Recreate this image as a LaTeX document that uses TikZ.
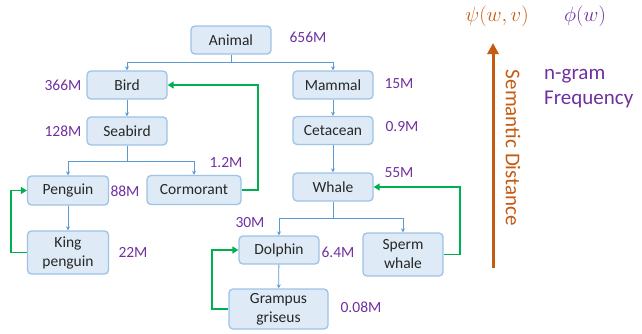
\documentclass[tikz,border=0pt]{standalone}
\usepackage{fontspec}
\setmainfont{Carlito}
\usetikzlibrary{positioning,arrows.meta}
\definecolor{tbfill}{RGB}{222,235,247}
\definecolor{tbdraw}{RGB}{157,195,230}
\definecolor{tbline}{RGB}{91,155,213}
\definecolor{tbgreen}{RGB}{0,176,80}
\definecolor{tbpurple}{RGB}{112,48,160}
\definecolor{tborange}{RGB}{197,90,17}

\begin{document}
\begin{tikzpicture}[x=1pt, y=-1pt,
  box/.style={draw=tbdraw, fill=tbfill, line width=1.3pt, rounded corners=4pt, align=center,
              inner sep=2pt, minimum width=80pt, minimum height=28pt,
              font=\fontsize{15.5}{19}\selectfont, text=black!85},
  tall/.style={box, minimum height=43pt},
  num/.style={text=tbpurple, font=\fontsize{15.5}{19}\selectfont, inner sep=0pt},
  tree/.style={-{Stealth[length=4pt,width=4pt]}, draw=tbline, line width=0.8pt},
  back/.style={-{Triangle[length=6pt,width=7pt]}, draw=tbgreen, line width=1.8pt},
  sem/.style={-{Triangle[length=11pt,width=11pt]}, draw=tborange, line width=3pt},
]
\useasboundingbox (0,0) rectangle (642,333);

% taxonomy boxes
\node[box] (animal) at (231,40) {Animal};
\node[box] (bird) at (127,85) {Bird};
\node[box] (seabird) at (127,131) {Seabird};
\node[box, minimum width=81pt, minimum height=29pt] (penguin) at (68,190.5) {Penguin};
\node[box, minimum width=94pt, minimum height=29pt] (cormorant) at (194,190) {Cormorant};
\node[tall, minimum width=81pt] (kingp) at (68,252.5) {King\\penguin};
\node[box] (mammal) at (333,85) {Mammal};
\node[box] (cetacean) at (333,130.5) {Cetacean};
\node[box] (whale) at (333,187) {Whale};
\node[box] (dolphin) at (279,250) {Dolphin};
\node[tall] (sperm) at (403,254.5) {Sperm\\whale};
\node[box, minimum width=99pt, minimum height=40pt] (grampus) at (278.5,309) {Grampus\\griseus};

% frequencies
\node[num] (fanimal) at (308,37) {656M};
\node[num] (fbird) at (63,85) {366M};
\node[num] (fseabird) at (63,131) {128M};
\node[num] (fcormorant) at (226,163) {1.2M};
\node[num] (fpenguin) at (125,191) {88M};
\node[num] (fkingp) at (133,252) {22M};
\node[num] (fmammal) at (399,84) {15M};
\node[num] (fcetacean) at (402,127) {0.9M};
\node[num] (fwhale) at (399,173) {55M};
\node[num] (fdolphin) at (250,223) {30M};
\node[num] (fdolphin2) at (338,252) {6.4M};
\node[num] (fgrampus) at (361,307) {0.08M};

% tree edges
\coordinate (ta) at (231,62);
\coordinate (ts) at (127,161);
\coordinate (tw) at (333,218);
\draw[tree] (animal.south) -- (ta) -| (bird.north);
\draw[tree] (ta) -| (mammal.north);
\draw[tree] (bird) -- (seabird);
\draw[tree] (seabird.south) -- (ts) -| (penguin.north);
\draw[tree] (ts) -| (cormorant.north);
\draw[tree] (penguin) -- (kingp);
\draw[tree] (mammal) -- (cetacean);
\draw[tree] (cetacean) -- (whale);
\draw[tree] (whale.south) -- (tw) -| (dolphin.north);
\draw[tree] (tw) -| (sperm.north);
\draw[tree] (dolphin) -- (grampus);

% green back links
\draw[back] (cormorant.east) -- ++(16,0) |- (bird.east);
\draw[back] (kingp.west) -- ++(-16,0) |- (penguin.west);
\draw[back] (grampus.west) -- ++(-16,0) |- (dolphin.west);
\draw[back] (sperm.east) -- ++(16,0) |- (whale.east);

% legend
\node[text=tborange, font=\fontsize{20.74}{22}\selectfont] (psi) at (497,16) {$\psi(w,v)$};
\node[text=tbpurple, font=\fontsize{20.74}{22}\selectfont] (phi) at (585,16) {$\phi(w)$};
\coordinate (sbot) at (493,268);
\coordinate (stop) at (493,43);
\draw[sem] (sbot) -- (stop);
\node[rotate=-90, text=tborange, font=\fontsize{21}{24}\selectfont] (semlbl) at (513,148) {Semantic Distance};
\node[anchor=west, align=left, text=tbpurple, font=\fontsize{21}{25}\selectfont, inner sep=0pt] (freq) at (544,89) {n-gram\\Frequency};
\end{tikzpicture}
\end{document}
